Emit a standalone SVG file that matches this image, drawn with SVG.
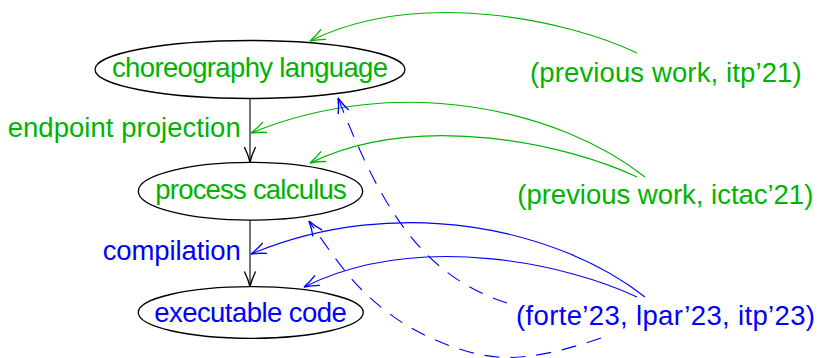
<svg xmlns="http://www.w3.org/2000/svg" width="818" height="358" viewBox="0 0 818 358">
<style>
.t{font-family:"Liberation Sans",Arial,sans-serif;font-size:27.5px}
.g{fill:rgb(0,179,0)}
.b{fill:#0000ff}
.node ellipse{fill:none;stroke:#000;stroke-width:1.3}
.e{fill:none;stroke-width:1.1}
.eg{stroke:rgb(0,179,0)}
.eb{stroke:#0000ff}
.ek{stroke:#000}
.d{stroke-dasharray:15 11}
</style>
<defs>
<marker id="ak" markerUnits="userSpaceOnUse" markerWidth="20" markerHeight="20" refX="0" refY="0" viewBox="-14 -7 16 14" orient="auto" overflow="visible">
<path d="M-12,-4.5 C-7,-2 -2,-0.5 0,0 C-2,0.5 -7,2 -12,4.5" fill="none" stroke="#000" stroke-width="1.1"/>
</marker>
<marker id="ag" markerUnits="userSpaceOnUse" markerWidth="20" markerHeight="20" refX="0" refY="0" viewBox="-14 -7 16 14" orient="auto" overflow="visible">
<path d="M-12,-4.5 C-7,-2 -2,-0.5 0,0 C-2,0.5 -7,2 -12,4.5" fill="none" stroke="rgb(0,179,0)" stroke-width="1.1"/>
</marker>
<marker id="ab" markerUnits="userSpaceOnUse" markerWidth="20" markerHeight="20" refX="0" refY="0" viewBox="-14 -7 16 14" orient="auto" overflow="visible">
<path d="M-12,-4.5 C-7,-2 -2,-0.5 0,0 C-2,0.5 -7,2 -12,4.5" fill="none" stroke="#0000ff" stroke-width="1.1"/>
</marker>
</defs>

<g id="choreography" class="node">
<ellipse cx="250" cy="69.5" rx="155" ry="29"/>
<text class="t g" x="250" y="77" text-anchor="middle" textLength="276" lengthAdjust="spacing">choreography language</text>
</g>
<g id="process" class="node">
<ellipse cx="250.5" cy="191.2" rx="112.2" ry="28.9"/>
<text class="t g" x="251" y="199.3" text-anchor="middle" textLength="191.5" lengthAdjust="spacing">process calculus</text>
</g>
<g id="executable" class="node">
<ellipse cx="250.8" cy="312.5" rx="112.5" ry="25.8"/>
<text class="t b" x="250.5" y="322" text-anchor="middle" textLength="192.5" lengthAdjust="spacing">executable code</text>
</g>
<g id="label-epp">
<text class="t g" x="240.7" y="137" text-anchor="end" textLength="233" lengthAdjust="spacing">endpoint projection</text>
</g>
<g id="label-compilation">
<text class="t b" x="240.7" y="260.3" text-anchor="end" textLength="138" lengthAdjust="spacing">compilation</text>
</g>
<g id="src-itp21">
<text class="t g" x="530" y="82.3" textLength="271.7" lengthAdjust="spacing">(previous work, itp’21)</text>
</g>
<g id="src-ictac21">
<text class="t g" x="517.3" y="203.6" textLength="296" lengthAdjust="spacing">(previous work, ictac’21)</text>
</g>
<g id="src-23">
<text class="t b" x="516" y="325.3" textLength="299" lengthAdjust="spacing">(forte’23, lpar’23, itp’23)</text>
</g>

<g id="connectors">
<path class="e ek" d="M250,98.5 L250,162" marker-end="url(#ak)"/>
<path class="e ek" d="M250,220 L250,286.5" marker-end="url(#ak)"/>
<path class="e eg" d="M637,53 C570,21 420,-13 310,41" marker-end="url(#ag)"/>
<path class="e eg" d="M645,177 C560,110 400,72 251,133" marker-end="url(#ag)"/>
<path class="e eg" d="M637,177 C570,145 420,110 310,163" marker-end="url(#ag)"/>
<path class="e eb" d="M645,297 C560,230 400,192 251,254" marker-end="url(#ab)"/>
<path class="e eb" d="M637,297 C570,265 420,230 304,287" marker-end="url(#ab)"/>
<path class="e eb d" d="M507,303 C420,275 380,205 338,98" marker-end="url(#ab)"/>
<path class="e eb d" d="M601,338 C569.7,348.7 536.1,357.8 507,357.5 C478,357.2 450.7,347.1 426.7,336 C402.7,324.9 382.6,310.2 363,291 C343.4,271.8 325.7,245 309,221" marker-end="url(#ab)"/>
</g>
</svg>
